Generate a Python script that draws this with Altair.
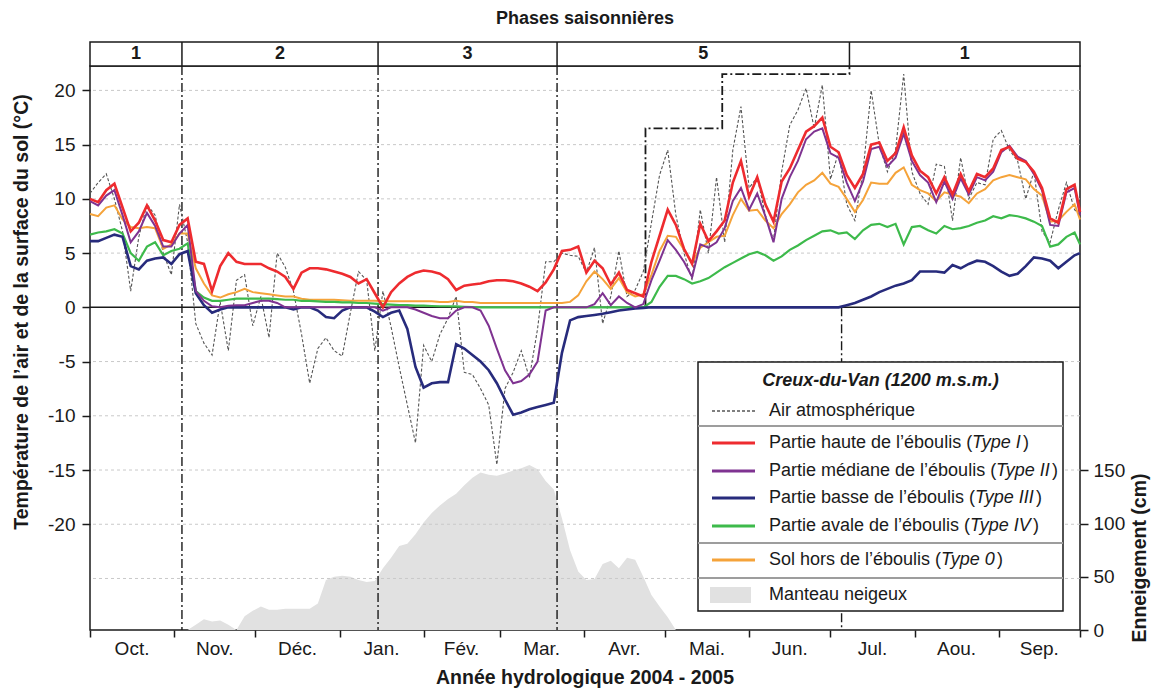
import altair as alt
import pandas as pd

# Sampling days, counted from 1 October 2004 (every third day, plus 30 September 2005)
DAYS = list(range(0, 364, 3)) + [365]

# Air temperature (°C)
AIR = [
    10.5, 11.5, 12.3, 10.0, 7.0, 1.5, 6.5, 9.5, 8.5, 5.0,
    3.0, 9.5, 6.0, -1.5, -3.3, -4.4, 0.5, -4.0, 2.5, 3.0,
    -1.7, 1.0, -2.8, 5.0, 3.7, 1.5, -2.5, -7.0, -3.8, -2.8,
    -4.0, -4.5, -0.5, 3.3, 2.5, -4.0, 1.5, -1.8, -5.5, -9.0,
    -12.5, -3.5, -5.0, -2.5, -1.0, 1.0, -6.0, -6.2, -7.5, -9.0,
    -14.5, -7.5, -6.0, -4.0, -6.5, -2.0, 4.2, 4.2, 5.0, 4.8,
    4.7, 3.2, 5.5, -1.5, 1.0, 5.2, 1.0, 1.6, 3.3, 7.8,
    12.2, 14.5, 8.5, 5.0, 2.5, 9.0, 5.0, 12.0, 6.0, 14.5,
    18.5, 11.0, 12.0, 8.5, 6.2, 12.5, 16.8, 18.2, 20.2, 16.5,
    20.5, 11.8, 14.3, 9.5, 8.0, 12.5, 20.0, 15.0, 12.5, 14.5,
    21.5, 12.5, 10.5, 9.5, 13.2, 13.0, 8.0, 13.8, 10.0, 11.5,
    11.3, 15.5, 16.3, 14.5, 13.5, 10.0, 12.5, 7.0, 6.0, 9.0,
    11.5, 9.0,
    8.5,
]

# Upper part of the scree (Type I)
TYPE_I = [
    10.0, 9.7, 10.8, 11.4, 9.2, 7.0, 7.8, 9.4, 8.0, 6.2,
    6.0, 7.6, 8.2, 4.2, 4.0, 1.5, 3.8, 5.0, 4.2, 4.0,
    4.0, 4.0, 3.6, 3.3, 2.8, 1.7, 3.2, 3.6, 3.6, 3.5,
    3.3, 3.1, 2.8, 2.2, 2.6, 1.3, 0.0, 1.4, 2.2, 2.8,
    3.2, 3.4, 3.3, 3.1, 2.6, 1.6, 2.0, 2.1, 2.2, 2.4,
    2.5, 2.5, 2.4, 2.2, 1.9, 1.5, 2.3, 3.5, 5.2, 5.3,
    5.6, 3.2, 4.3, 3.6, 2.1, 3.2, 1.6, 1.3, 1.0, 4.2,
    6.6, 9.0, 7.6, 5.4, 4.0, 7.7, 6.1, 7.0, 8.0, 11.5,
    13.5, 10.2, 12.0, 9.5, 7.9, 11.6, 12.8, 14.5, 16.2, 16.7,
    17.5, 14.8, 14.3, 12.2, 11.0, 12.3, 15.0, 15.2, 13.5, 14.2,
    16.6, 14.0, 12.6, 12.0, 10.5, 12.0, 10.4, 12.3, 10.7, 12.3,
    12.0, 12.8, 14.5, 14.8, 13.7, 13.4, 12.5, 11.0, 8.2, 7.8,
    10.9, 11.3,
    8.8,
]

# Middle part of the scree (Type II)
TYPE_II = [
    9.8, 9.4, 10.3, 10.8, 8.5, 6.0, 7.0, 8.7, 7.5, 5.6,
    5.6, 6.8, 7.6, 1.5, 0.6, 0.1, 0.0, 0.15, 0.2, 0.2,
    0.4, 0.6, 0.6, 0.4, 0.0, 0.0, 0.0, 0.0, 0.0, 0.0,
    0.0, 0.0, 0.0, 0.0, 0.0, 0.0, -0.3, 0.0, 0.0, 0.0,
    -0.2, -0.5, -0.8, -1.0, -1.0, -0.3, 0.0, 0.0, -0.3, -1.7,
    -3.8, -5.8, -7.0, -6.8, -6.2, -5.0, -0.3, 0.0, 0.0, 0.0,
    0.0, 0.0, 0.3, 1.3, 0.2, 1.0, 0.4, 0.0, 0.3, 2.5,
    4.3, 6.2, 5.3, 4.2, 2.8, 5.8, 5.5, 6.0, 7.3, 9.8,
    11.0, 9.0, 10.5, 8.4, 6.0, 10.0, 12.0, 13.5, 15.5, 16.2,
    16.5, 14.2, 13.8, 11.5, 9.8, 11.6, 14.6, 14.8, 13.0, 13.8,
    16.0, 13.5, 12.2, 11.5, 9.7, 11.6, 10.0, 11.9, 10.4, 12.0,
    11.7, 12.5, 14.3, 14.9, 13.9, 13.5, 12.3, 10.8, 7.6, 7.5,
    10.6, 11.0,
    8.5,
]

# Lower part of the scree (Type III)
TYPE_III = [
    6.1, 6.1, 6.4, 6.7, 6.5, 3.8, 3.5, 4.3, 4.5, 4.6,
    4.0, 4.9, 5.2, 1.3, 0.2, -0.5, -0.2, 0.0, 0.0, 0.0,
    0.0, 0.0, 0.0, 0.0, 0.0, -0.2, 0.0, 0.0, -0.3, -0.9,
    -1.0, -0.3, 0.0, 0.0, 0.0, -0.4, -0.9, -0.5, -0.3, -2.0,
    -5.5, -7.4, -7.0, -6.9, -6.9, -3.4, -3.8, -4.4, -5.0, -5.8,
    -7.0, -8.5, -9.9, -9.7, -9.4, -9.2, -9.0, -8.8, -4.2, -1.2,
    -0.9, -0.8, -0.7, -0.6, -0.45, -0.3, -0.2, -0.1, -0.05, 0.0,
    0.0, 0.0, 0.0, 0.0, 0.0, 0.0, 0.0, 0.0, 0.0, 0.0,
    0.0, 0.0, 0.0, 0.0, 0.0, 0.0, 0.0, 0.0, 0.0, 0.0,
    0.0, 0.0, 0.0, 0.2, 0.4, 0.7, 1.0, 1.4, 1.7, 2.0,
    2.2, 2.5, 3.3, 3.3, 3.3, 3.2, 3.9, 3.6, 4.0, 4.3,
    4.2, 3.8, 3.3, 2.9, 3.1, 3.8, 4.6, 4.5, 4.3, 3.6,
    4.2, 4.8,
    5.0,
]

# Downslope of the scree (Type IV)
TYPE_IV = [
    6.7, 6.9, 7.0, 7.2, 6.8, 5.0, 4.3, 5.6, 6.0, 4.8,
    5.2, 5.4, 5.9, 1.5, 0.9, 0.6, 0.6, 0.7, 0.8, 0.8,
    0.8, 0.8, 0.8, 0.75, 0.7, 0.7, 0.6, 0.6, 0.55, 0.5,
    0.5, 0.45, 0.45, 0.4, 0.4, 0.35, 0.3, 0.25, 0.2, 0.2,
    0.15, 0.15, 0.12, 0.1, 0.1, 0.08, 0.05, 0.02, 0.0, 0.0,
    0.0, 0.0, 0.0, 0.0, 0.0, 0.0, 0.0, 0.0, 0.0, 0.0,
    0.0, 0.0, 0.0, 0.0, 0.0, 0.0, 0.0, 0.0, 0.0, 0.5,
    1.9, 2.9, 2.9, 2.6, 2.2, 2.4, 2.7, 3.2, 3.7, 4.1,
    4.5, 4.9, 5.1, 4.8, 4.3, 4.7, 5.3, 5.7, 6.2, 6.6,
    7.0, 7.1, 6.8, 6.9, 6.3, 7.1, 7.6, 7.7, 7.4, 7.7,
    5.8, 7.4, 7.5, 7.1, 6.8, 7.5, 7.2, 7.3, 7.5, 7.8,
    8.0, 8.4, 8.2, 8.5, 8.4, 8.2, 7.9, 7.5, 5.6, 5.8,
    6.5, 6.9,
    5.8,
]

# Soil outside the scree (Type 0)
TYPE_0 = [
    8.6, 8.4, 9.2, 9.4, 8.1, 7.4, 7.3, 7.4, 7.3, 5.4,
    5.8, 6.8, 6.8, 3.6, 2.2, 1.1, 0.9, 1.2, 1.4, 1.7,
    1.4, 1.3, 1.2, 1.1, 1.0, 1.0, 0.8, 0.7, 0.7, 0.7,
    0.7, 0.65, 0.6, 0.6, 0.6, 0.6, 0.55, 0.55, 0.55, 0.55,
    0.55, 0.55, 0.55, 0.5, 0.5, 0.6, 0.5, 0.5, 0.4, 0.4,
    0.4, 0.4, 0.4, 0.4, 0.4, 0.4, 0.4, 0.4, 0.4, 0.5,
    1.1, 2.4, 3.3, 2.6, 1.7, 2.7, 1.4, 1.0, 1.2, 3.0,
    5.2, 6.6, 6.5, 5.3, 4.1, 5.5, 6.0, 6.5, 6.6, 8.5,
    10.0, 8.9, 9.0, 8.0, 7.3, 8.6, 9.5, 10.6, 11.3, 11.7,
    12.4, 11.4, 11.1, 10.0, 8.8, 9.9, 11.5, 11.4, 11.4, 12.4,
    12.9, 11.3, 10.8, 10.5, 9.8, 10.6, 10.4, 10.2, 9.6, 10.5,
    10.9, 11.7, 12.0, 12.2, 12.0, 11.8, 10.9, 10.3, 7.9, 8.0,
    8.8, 9.5,
    8.1,
]

# Snow depth (cm)
SNOW = [
    0, 0, 0, 0, 0, 0, 0, 0, 0, 0,
    0, 0, 0, 5, 10, 8, 9, 5, 0, 13,
    18, 22, 19, 19, 20, 20, 20, 20, 25, 47,
    50, 51, 50, 47, 45, 46, 58, 68, 79, 81,
    90, 101, 110, 117, 123, 128, 136, 143, 148, 146,
    145, 147, 150, 152, 155, 151, 140, 132, 105, 75,
    55, 47, 48, 62, 65, 58, 68, 66, 50, 33,
    22, 12, 0, 0, 0, 0, 0, 0, 0, 0,
    0, 0, 0, 0, 0, 0, 0, 0, 0, 0,
    0, 0, 0, 0, 0, 0, 0, 0, 0, 0,
    0, 0, 0, 0, 0, 0, 0, 0, 0, 0,
    0, 0, 0, 0, 0, 0, 0, 0, 0, 0,
    0, 0,
    0,
]

MONTH_STARTS = [0, 31, 61, 92, 123, 151, 182, 212, 243, 273, 304, 335, 365]
MONTH_LABELS = ["Oct.", "Nov.", "Déc.", "Jan.", "Fév.", "Mar.",
                "Avr.", "Mai.", "Jun.", "Jul.", "Aou.", "Sep."]

PHASE_BOUNDS = [0, 33.9, 106.2, 172.2, 280.0, 365]
PHASE_LABELS = ["1", "2", "3", "5", "1"]
# Phase changes drawn as dash-dot lines across the whole plot
FULL_HEIGHT_BOUNDS = [33.9, 106.2, 172.2]

# Dash-dot step outline (day, °C) and the marker below it
STEP_DAYS = [204.8, 204.8, 233.1, 233.1, 280.0, 280.0]
STEP_TEMPS = [0.0, 16.5, 16.5, 21.5, 21.5, 22.25]
MARK_DAY = 277.1

GRID_TEMPS = [-25, -20, -15, -10, -5, 5, 10, 15, 20]

T_MIN, T_MAX = -29.75, 22.25
SNOW_MAX = 530
W, H = 990, 564
FONT = "Liberation Sans"
INK = "#1a1a1a"

COLORS = {
    "air": "#555555",
    "t0": "#f5a33a",
    "t4": "#3dba4b",
    "t3": "#272b7c",
    "t2": "#7f3391",
    "t1": "#ee2b2f",
    "snow": "#e1e1e1",
}

df = pd.DataFrame({
    "day": DAYS, "air": AIR, "t1": TYPE_I, "t2": TYPE_II,
    "t3": TYPE_III, "t4": TYPE_IV, "t0": TYPE_0, "snow": SNOW,
})
months = pd.DataFrame({
    "mid": [(a + b) / 2 for a, b in zip(MONTH_STARTS[:-1], MONTH_STARTS[1:])],
    "label": MONTH_LABELS,
})
phases = pd.DataFrame({
    "start": PHASE_BOUNDS[:-1], "end": PHASE_BOUNDS[1:],
    "mid": [(a + b) / 2 for a, b in zip(PHASE_BOUNDS[:-1], PHASE_BOUNDS[1:])],
    "label": PHASE_LABELS,
})
inner_bounds = pd.DataFrame({"day": FULL_HEIGHT_BOUNDS})
band_bounds = pd.DataFrame({"day": PHASE_BOUNDS[1:-1]})
step = pd.DataFrame({"day": STEP_DAYS, "t": STEP_TEMPS, "i": list(range(len(STEP_DAYS)))})
marker = pd.DataFrame({"day": [MARK_DAY], "t": [0.0], "t2": [T_MIN]})
grid = pd.DataFrame({"t": GRID_TEMPS})
zero = pd.DataFrame({"t": [0.0]})
one = pd.DataFrame({"k": [0]})

x_scale = alt.Scale(domain=[0, 365], nice=False, zero=False)
x_axis = alt.Axis(values=MONTH_STARTS, labels=False, ticks=True, tickSize=7,
                  tickColor=INK, tickWidth=1.5, domain=False, grid=False, title=None)
y_scale = alt.Scale(domain=[T_MIN, T_MAX], nice=False, zero=False)
y_axis = alt.Axis(orient="left", values=list(range(-20, 21, 5)), tickSize=8,
                  tickColor=INK, tickWidth=1.5, labelFontSize=19, labelFont=FONT,
                  labelColor=INK, labelPadding=7, domain=False, grid=False,
                  title=None, labelExpr="replace(datum.label, '\u2212', '-')")


def X(field="day"):
    return alt.X(f"{field}:Q", scale=x_scale, axis=x_axis)


def Y(field="t"):
    return alt.Y(f"{field}:Q", scale=y_scale, axis=y_axis)


DASHDOT = [9, 3, 2, 3]

# Snow cover on its own (right-hand) scale
snow = alt.Chart(df).mark_area(color=COLORS["snow"], interpolate="linear").encode(
    x=X(),
    y=alt.Y("snow:Q", scale=alt.Scale(domain=[0, SNOW_MAX], nice=False, zero=True),
            axis=alt.Axis(orient="right", values=[0, 50, 100, 150], tickSize=8,
                          tickColor=INK, tickWidth=1.5, labelFontSize=19,
                          labelFont=FONT, labelColor=INK, labelPadding=5,
                          domain=False, grid=False, title=None)),
)

layers = []
layers.append(alt.Chart(grid).mark_rule(color="#c9c9c9", strokeWidth=1, strokeDash=[3, 3])
              .encode(y=Y()))
layers.append(alt.Chart(inner_bounds).mark_rule(color=INK, strokeWidth=1.4, strokeDash=DASHDOT)
              .encode(x=X()))
layers.append(alt.Chart(step).mark_line(color=INK, strokeWidth=1.8, strokeDash=DASHDOT)
              .encode(x=X(), y=Y(), order="i:Q"))
layers.append(alt.Chart(marker).mark_rule(color=INK, strokeWidth=1.4, strokeDash=DASHDOT)
              .encode(x=X(), y=Y(), y2="t2:Q"))
layers.append(alt.Chart(zero).mark_rule(color=INK, strokeWidth=1.5).encode(y=Y()))

layers.append(alt.Chart(df).mark_line(color=COLORS["air"], strokeWidth=1.1, strokeDash=[3, 2])
              .encode(x=X(), y=Y("air")))
for key, width in [("t0", 2.0), ("t4", 2.2), ("t3", 2.6), ("t2", 2.0), ("t1", 2.6)]:
    layers.append(alt.Chart(df).mark_line(color=COLORS[key], strokeWidth=width)
                  .encode(x=X(), y=Y(key)))

# Seasonal phase band above the plot
layers.append(alt.Chart(one).mark_rect(fill="white", stroke=INK, strokeWidth=1.5)
              .encode(x=alt.value(0), x2=alt.value(W), y=alt.value(-24), y2=alt.value(0)))
layers.append(alt.Chart(band_bounds).mark_rule(color=INK, strokeWidth=1.5)
              .encode(x=X(), y=alt.value(-24), y2=alt.value(0)))
layers.append(alt.Chart(phases).mark_text(font=FONT, fontSize=18, fontWeight="bold",
                                          color=INK, baseline="middle")
              .encode(x=X("mid"), y=alt.value(-12), text="label:N"))


def txt(s, x, y, size=18, weight="normal", style="normal", align="left", angle=0):
    return alt.Chart(one).mark_text(text=s, font=FONT, fontSize=size, fontWeight=weight,
                                    fontStyle=style, align=align, baseline="middle",
                                    color=INK, angle=angle).encode(
        x=alt.value(x), y=alt.value(y))


layers.append(txt("Phases saisonnières", W / 2, -47, size=18, weight="bold", align="center"))

# Month labels centred between month ticks, and axis titles
layers.append(alt.Chart(months).mark_text(font=FONT, fontSize=19, color=INK, baseline="middle")
              .encode(x=X("mid"), y=alt.value(H + 19), text="label:N"))
layers.append(txt("Année hydrologique 2004 - 2005", W / 2, H + 48, size=19.5,
                  weight="bold", align="center"))
layers.append(txt("Température de l’air et de la surface du sol (°C)", -68, 246,
                  size=19.5, weight="bold", align="center", angle=270))
layers.append(txt("Enneigement (cm)", W + 60, 492, size=19.5, weight="bold",
                  align="center", angle=270))

# Legend box
ARIAL = {" ": 278, "(": 333, ")": 333, "’": 222, "P": 667, "S": 667, "T": 611,
         "I": 278, "V": 667, "0": 556, "a": 556, "b": 556, "d": 556, "e": 556,
         "é": 556, "h": 556, "i": 222, "l": 222, "m": 833, "n": 556, "o": 556,
         "p": 556, "r": 333, "s": 500, "t": 278, "u": 556, "v": 500, "y": 500}


def text_width(s, size):
    return sum(ARIAL[c] for c in s) * size / 1000


LX0, LX1, LY0, LY1 = 608, 973, 296, 545
SYM0, SYM1, TX = 622, 665, 679
layers.append(alt.Chart(one).mark_rect(fill="white", stroke=INK, strokeWidth=1.5)
              .encode(x=alt.value(LX0), x2=alt.value(LX1), y=alt.value(LY0), y2=alt.value(LY1)))
for sy in [360, 477, 512]:
    layers.append(alt.Chart(one).mark_rule(color="#9d9d9d", strokeWidth=2)
                  .encode(x=alt.value(LX0), x2=alt.value(LX1), y=alt.value(sy)))
layers.append(txt("Creux-du-Van (1200 m.s.m.)", (LX0 + LX1) / 2, 315, weight="bold",
                  style="italic", align="center"))

layers.append(alt.Chart(one).mark_rule(color=COLORS["air"], strokeWidth=1.5, strokeDash=[3, 2])
              .encode(x=alt.value(SYM0), x2=alt.value(SYM1), y=alt.value(345)))
layers.append(txt("Air atmosphérique", TX, 345))

entries = [
    ("t1", 377, "Partie haute de l’éboulis (", "Type I"),
    ("t2", 405, "Partie médiane de l’éboulis (", "Type II"),
    ("t3", 432, "Partie basse de l’éboulis (", "Type III"),
    ("t4", 460, "Partie avale de l’éboulis (", "Type IV"),
    ("t0", 494, "Sol hors de l’éboulis (", "Type 0"),
]
for key, ly, prefix, kind in entries:
    layers.append(alt.Chart(one).mark_rule(color=COLORS[key], strokeWidth=3)
                  .encode(x=alt.value(SYM0), x2=alt.value(SYM1), y=alt.value(ly)))
    w1 = text_width(prefix, 18)
    w2 = text_width(kind, 18)
    layers.append(txt(prefix, TX, ly))
    layers.append(txt(kind, TX + w1, ly, style="italic"))
    layers.append(txt(")", TX + w1 + w2 + 1, ly))

layers.append(alt.Chart(one).mark_rect(fill=COLORS["snow"])
              .encode(x=alt.value(SYM0 - 2), x2=alt.value(SYM1 - 4),
                      y=alt.value(521), y2=alt.value(537)))
layers.append(txt("Manteau neigeux", TX, 529))

temps = alt.layer(*layers)

chart = (
    alt.layer(snow, temps)
    .resolve_scale(y="independent")
    .properties(width=W, height=H, autosize=alt.AutoSizeParams(type="none"),
                padding={"left": 90, "top": 66, "right": 71, "bottom": 58},
                background="white")
    .configure_view(stroke=INK, strokeWidth=1.5)
)

chart.save("out.html", embed_options={"renderer": "svg", "actions": False})
